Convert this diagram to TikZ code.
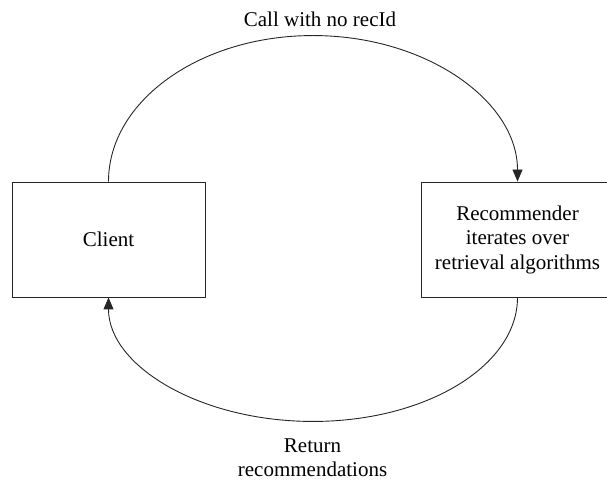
\documentclass[tikz,border=0pt]{standalone}
\usepackage{fontspec}
\setmainfont{Liberation Serif}
\usetikzlibrary{arrows.meta}
\begin{document}
\begin{tikzpicture}[x=1pt,y=1pt,
  box/.style={draw=black!85, line width=0.9pt, minimum width=193pt, minimum height=115pt,
    inner sep=0pt, align=center, font=\fontsize{21}{24.5}\selectfont},
  flow/.style={draw=black!85, line width=0.9pt, -{Triangle[length=12pt,width=10pt]}},
  lbl/.style={inner sep=0pt, align=center, font=\fontsize{21}{24.5}\selectfont}]
  \useasboundingbox (0,0) rectangle (607,482);
  % the two parties
  \node[box] (client) at (108.5,242.5) {Client};
  \node[box] (rec) at (517.5,242.5) {Recommender\\iterates over\\retrieval algorithms};
  % request: upper half-ellipse from client to recommender
  \draw[flow] (client.north) arc[start angle=180, end angle=0, x radius=204.5, y radius=146];
  % response: lower half-ellipse back to the client
  \draw[flow] (rec.south) arc[start angle=0, end angle=-180, x radius=204.5, y radius=124];
  % labels
  \node[lbl, anchor=base] (call) at (320,455) {Call with no recId};
  \node[lbl, anchor=north] (ret) at (312.5,43.5) {Return\\recommendations};
\end{tikzpicture}
\end{document}
